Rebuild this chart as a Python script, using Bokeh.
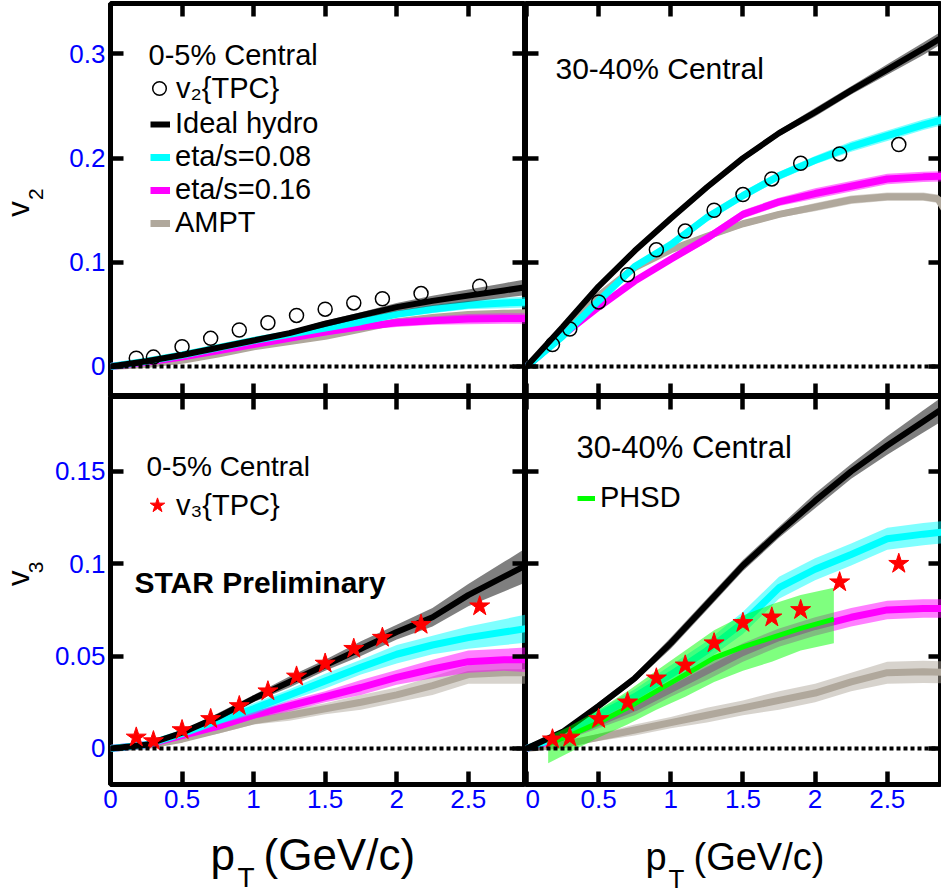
import numpy as np
from bokeh.plotting import figure
from bokeh.models import (Range1d, LinearAxis, FixedTicker, Span, Label, Legend, LegendItem)
from bokeh.layouts import row, column
from bokeh.embed import file_html
from bokeh.resources import INLINE

# ---------------- data ----------------
x_ticks = [0, 0.5, 1.0, 1.5, 2.0, 2.5]
x_tick_labels = ["0", "0.5", "1", "1.5", "2", "2.5"]
v2_ticks = [0, 0.1, 0.2, 0.3]
v2_tick_labels = ["0", "0.1", "0.2", "0.3"]
v3_ticks = [0, 0.05, 0.1, 0.15]
v3_tick_labels = ["0", "0.05", "0.1", "0.15"]

# measured points (pT in GeV/c)
pt_data = [0.18, 0.30, 0.50, 0.70, 0.90, 1.10, 1.30, 1.50, 1.70, 1.90, 2.17, 2.58]
v2_tpc_0_5 = [0.008, 0.009, 0.019, 0.027, 0.035, 0.042, 0.049, 0.055, 0.061, 0.065, 0.070, 0.077]
v2_tpc_30_40 = [0.021, 0.036, 0.062, 0.088, 0.112, 0.130, 0.150, 0.165, 0.180, 0.195, 0.204, 0.213]
v3_tpc_0_5 = [0.006, 0.004, 0.010, 0.016, 0.023, 0.031, 0.039, 0.046, 0.054, 0.060, 0.067, 0.077]
v3_tpc_30_40 = [0.005, 0.006, 0.016, 0.025, 0.038, 0.045, 0.057, 0.068, 0.071, 0.075, 0.090, 0.100]

# model curves (pT grid)
pt_model = [0, 0.25, 0.5, 0.75, 1.0, 1.25, 1.5, 1.75, 2.0, 2.25, 2.5, 2.75, 3.0]

# v2, 0-5%
v2c_hydro = [0, 0.005, 0.011, 0.018, 0.025, 0.032, 0.041, 0.049, 0.057, 0.063, 0.068, 0.073, 0.078]
v2c_hydro_err = [0, 0.001, 0.001, 0.0015, 0.002, 0.002, 0.003, 0.003, 0.004, 0.005, 0.006, 0.007, 0.008]
v2c_eta08 = [0, 0.005, 0.011, 0.018, 0.025, 0.031, 0.037, 0.043, 0.050, 0.055, 0.059, 0.061, 0.062]
v2c_eta08_err = [0, 0.001, 0.001, 0.0015, 0.002, 0.002, 0.003, 0.003, 0.003, 0.004, 0.004, 0.005, 0.005]
v2c_eta16 = [0, 0.004, 0.009, 0.015, 0.021, 0.027, 0.033, 0.038, 0.042, 0.044, 0.0455, 0.046, 0.046]
v2c_eta16_err = [0, 0.001, 0.001, 0.0015, 0.002, 0.002, 0.003, 0.003, 0.004, 0.004, 0.005, 0.005, 0.005]
v2c_ampt = [0, 0.002, 0.006, 0.012, 0.019, 0.024, 0.029, 0.036, 0.043, 0.047, 0.050, 0.051, 0.052]
v2c_ampt_err = [0, 0.001, 0.001, 0.001, 0.001, 0.001, 0.0015, 0.0015, 0.002, 0.002, 0.002, 0.002, 0.002]

# v2, 30-40%
v2p_hydro = [0, 0.038, 0.077, 0.111, 0.142, 0.172, 0.200, 0.224, 0.244, 0.265, 0.285, 0.305, 0.326]
v2p_hydro_err = [0, 0.001, 0.002, 0.002, 0.002, 0.003, 0.003, 0.003, 0.004, 0.004, 0.005, 0.006, 0.006]
v2p_eta08 = [0, 0.029, 0.063, 0.096, 0.117, 0.143, 0.164, 0.183, 0.198, 0.211, 0.2215, 0.232, 0.241]
v2p_eta08_err = [0, 0.002, 0.003, 0.003, 0.003, 0.004, 0.004, 0.004, 0.004, 0.005, 0.005, 0.005, 0.005]
v2p_eta16 = [0, 0.030, 0.057, 0.082, 0.103, 0.123, 0.146, 0.158, 0.166, 0.173, 0.180, 0.182, 0.183]
v2p_eta16_err = [0, 0.002, 0.002, 0.003, 0.003, 0.004, 0.004, 0.004, 0.005, 0.005, 0.005, 0.005, 0.005]
pt_ampt_p = [0, 0.25, 0.5, 0.75, 1.0, 1.25, 1.5, 1.75, 2.0, 2.25, 2.5, 2.75, 2.85, 2.9]
v2p_ampt = [0, 0.030, 0.068, 0.095, 0.112, 0.125, 0.137, 0.146, 0.153, 0.160, 0.163, 0.163, 0.161, 0.150]
v2p_ampt_err = [0, 0.002, 0.002, 0.002, 0.003, 0.003, 0.003, 0.003, 0.004, 0.004, 0.004, 0.004, 0.004, 0.004]

# v3, 0-5%
v3c_hydro = [0, 0.002, 0.0085, 0.017, 0.027, 0.036, 0.045, 0.054, 0.063, 0.071, 0.083, 0.093, 0.103]
v3c_hydro_err = [0, 0.001, 0.001, 0.002, 0.002, 0.003, 0.003, 0.004, 0.004, 0.005, 0.006, 0.008, 0.010]
v3c_eta08 = [0, 0.002, 0.008, 0.015, 0.0215, 0.029, 0.0365, 0.044, 0.051, 0.056, 0.060, 0.063, 0.066]
v3c_eta08_err = [0, 0.001, 0.001, 0.002, 0.003, 0.003, 0.004, 0.004, 0.005, 0.005, 0.006, 0.007, 0.008]
v3c_eta16 = [0, 0.002, 0.007, 0.012, 0.018, 0.023, 0.028, 0.033, 0.0385, 0.043, 0.047, 0.048, 0.048]
v3c_eta16_err = [0, 0.001, 0.001, 0.002, 0.002, 0.003, 0.003, 0.004, 0.004, 0.005, 0.006, 0.006, 0.007]
v3c_ampt = [0, 0.0015, 0.005, 0.010, 0.015, 0.018, 0.0215, 0.025, 0.029, 0.034, 0.040, 0.041, 0.041]
v3c_ampt_err = [0, 0.001, 0.001, 0.002, 0.002, 0.003, 0.003, 0.004, 0.004, 0.005, 0.005, 0.006, 0.006]

# v3, 30-40%
v3p_hydro = [0, 0.009, 0.023, 0.038, 0.057, 0.078, 0.099, 0.117, 0.134, 0.150, 0.164, 0.177, 0.190]
v3p_hydro_err = [0, 0.001, 0.002, 0.002, 0.003, 0.003, 0.003, 0.003, 0.004, 0.004, 0.005, 0.006, 0.007]
v3p_eta08 = [0, 0.007, 0.018, 0.028, 0.040, 0.053, 0.068, 0.087, 0.097, 0.105, 0.1135, 0.116, 0.118]
v3p_eta08_err = [0, 0.002, 0.003, 0.004, 0.005, 0.005, 0.006, 0.006, 0.006, 0.006, 0.006, 0.006, 0.006]
v3p_eta16 = [0, 0.006, 0.014, 0.022, 0.032, 0.042, 0.052, 0.060, 0.066, 0.071, 0.075, 0.0758, 0.0756]
v3p_eta16_err = [0, 0.002, 0.003, 0.004, 0.004, 0.005, 0.005, 0.005, 0.005, 0.005, 0.005, 0.005, 0.005]
v3p_ampt = [0, 0.002, 0.006, 0.010, 0.014, 0.018, 0.022, 0.026, 0.030, 0.036, 0.041, 0.0415, 0.041]
v3p_ampt_err = [0, 0.001, 0.002, 0.003, 0.003, 0.004, 0.004, 0.005, 0.005, 0.005, 0.006, 0.006, 0.006]

# PHSD (30-40%, v3)
pt_phsd = [0.15, 0.3, 0.5, 0.7, 0.9, 1.1, 1.3, 1.5, 1.7, 1.9, 2.13]
v3_phsd = [0.0025, 0.007, 0.014, 0.022, 0.031, 0.040, 0.049, 0.055, 0.060, 0.065, 0.070]
v3_phsd_hi = [0.0065, 0.012, 0.021, 0.031, 0.042, 0.053, 0.064, 0.072, 0.078, 0.083, 0.087]
v3_phsd_lo = [-0.008, -0.002, 0.006, 0.013, 0.021, 0.028, 0.036, 0.042, 0.047, 0.053, 0.057]

# ---------------- styles ----------------
FONT = "Liberation Sans"
BLUE = "#0000FF"
C_HYDRO = "black"
C_08 = "#00FFFF"
C_16 = "#FF00FF"
C_AMPT = "#B0A89C"
C_PHSD = "#00FF00"
C_STAR = "#FF0000"

XR_L = (0.0, 2.9)
XR_R = (-0.007, 2.876)
YR_V2 = (-0.0288, 0.3484)
YR_V3 = (-0.0195, 0.1905)
HALF_PI = np.pi / 2


def make_fig(w, h, xr, yr, left, right, top, bottom):
    p = figure(width=w, height=h, x_range=Range1d(*xr), y_range=Range1d(*yr),
               output_backend="svg", toolbar_location=None,
               x_axis_location=None, y_axis_location=None,
               min_border=0, min_border_left=left, min_border_right=right,
               min_border_top=top, min_border_bottom=bottom)
    p.xgrid.visible = False
    p.ygrid.visible = False
    p.outline_line_color = "black"
    p.outline_line_width = 5
    p.background_fill_color = "white"
    p.border_fill_color = "white"
    return p


def text_fig(w, h):
    p = figure(width=w, height=h, x_range=Range1d(0, w), y_range=Range1d(0, h),
               output_backend="svg", toolbar_location=None,
               x_axis_location=None, y_axis_location=None, min_border=0)
    p.xgrid.visible = False
    p.ygrid.visible = False
    p.outline_line_color = None
    p.background_fill_color = "white"
    p.border_fill_color = "white"
    return p


def add_axis(p, side, ticks, labels, show):
    ax = LinearAxis(ticker=FixedTicker(ticks=ticks, minor_ticks=[]))
    ax.axis_line_color = None
    ax.major_tick_in = 13
    ax.major_tick_out = 0
    ax.minor_tick_in = 0
    ax.minor_tick_out = 0
    ax.major_tick_line_width = 4.5
    ax.major_tick_line_color = "black"
    if show:
        ax.major_label_text_font = FONT
        ax.major_label_text_font_size = "26px"
        ax.major_label_text_color = BLUE
        ax.major_label_standoff = 5
        ax.major_label_overrides = {t: s for t, s in zip(ticks, labels)}
    else:
        ax.major_label_text_font_size = "0px"
        ax.major_label_standoff = 0
        ax.major_label_overrides = {t: "" for t in ticks}
    p.add_layout(ax, side)


def frame_axes(p, yticks, ylabels, show_x, show_y):
    add_axis(p, "below", x_ticks, x_tick_labels, show_x)
    add_axis(p, "above", x_ticks, x_tick_labels, False)
    add_axis(p, "left", yticks, ylabels, show_y)
    add_axis(p, "right", yticks, ylabels, False)
    p.add_layout(Span(location=0, dimension="width", line_color="black",
                      line_width=4, line_dash="4 3"))


def band_line(p, x, y, err, color, lw, alpha=0.5):
    y = np.array(y)
    e = np.array(err)
    p.varea(x=x, y1=y - e, y2=y + e, fill_color=color, fill_alpha=alpha)
    return p.line(x=x, y=y, line_color=color, line_width=lw)


def txt(p, x, y, s, size, angle=0.0, style="normal", units="screen"):
    # (x, y): left end of the text, vertical middle of the text box
    p.add_layout(Label(x=x, y=y, x_units=units, y_units=units, text=s,
                       text_font=FONT, text_font_size=size, text_font_style=style,
                       text_color="black", angle=angle, text_align="left",
                       text_baseline="middle"))


def make_legend(items, loc, label_size, spacing, gw, gh, standoff):
    lg = Legend(items=items, location=loc)
    lg.label_text_font = FONT
    lg.label_text_font_size = label_size
    lg.label_text_color = "black"
    lg.background_fill_alpha = 0
    lg.border_line_color = None
    lg.padding = 0
    lg.margin = 0
    lg.spacing = spacing
    lg.glyph_width = gw
    lg.glyph_height = gh
    lg.label_standoff = standoff
    lg.label_height = 20
    return lg


# ---------------- top-left: v2 0-5% ----------------
tl = make_fig(475, 396, XR_L, YR_V2, 60, 0, 3, 0)
frame_axes(tl, v2_ticks, v2_tick_labels, False, True)
r_ampt = band_line(tl, pt_model, v2c_ampt, v2c_ampt_err, C_AMPT, 7)
r_16 = band_line(tl, pt_model, v2c_eta16, v2c_eta16_err, C_16, 7)
r_08 = band_line(tl, pt_model, v2c_eta08, v2c_eta08_err, C_08, 7)
r_hy = band_line(tl, pt_model, v2c_hydro, v2c_hydro_err, C_HYDRO, 6)
r_pts = tl.scatter(pt_data, v2_tpc_0_5, marker="circle", size=14, fill_color="white",
                   fill_alpha=0, line_color="black", line_width=1.5)
txt(tl, 38, 342, "0-5% Central", "29px")
tl.add_layout(make_legend([LegendItem(label="v\u2082{TPC}", renderers=[r_pts])],
                          (32, 291), "29px", 0, 34, 34, 0))
tl.add_layout(make_legend([LegendItem(label="Ideal hydro", renderers=[r_hy]),
                           LegendItem(label="eta/s=0.08", renderers=[r_08]),
                           LegendItem(label="eta/s=0.16", renderers=[r_16]),
                           LegendItem(label="AMPT", renderers=[r_ampt])],
                          (40, 157), "29px", 0, 20, 20, 5))

# ---------------- top-right: v2 30-40% ----------------
tr = make_fig(416, 396, XR_R, YR_V2, 0, 0, 3, 0)
frame_axes(tr, v2_ticks, v2_tick_labels, False, False)
band_line(tr, pt_ampt_p, v2p_ampt, v2p_ampt_err, C_AMPT, 7)
band_line(tr, pt_model, v2p_eta16, v2p_eta16_err, C_16, 7)
band_line(tr, pt_model, v2p_eta08, v2p_eta08_err, C_08, 7)
band_line(tr, pt_model, v2p_hydro, v2p_hydro_err, C_HYDRO, 6)
tr.scatter(pt_data, v2_tpc_30_40, marker="circle", size=14, fill_color="white",
           fill_alpha=0, line_color="black", line_width=1.5)
txt(tr, 30, 328, "30-40% Central", "30px")

# ---------------- bottom-left: v3 0-5% ----------------
bl = make_fig(475, 428, XR_L, YR_V3, 60, 0, 0, 40)
frame_axes(bl, v3_ticks, v3_tick_labels, True, True)
band_line(bl, pt_model, v3c_ampt, v3c_ampt_err, C_AMPT, 7)
band_line(bl, pt_model, v3c_eta16, v3c_eta16_err, C_16, 7)
band_line(bl, pt_model, v3c_eta08, v3c_eta08_err, C_08, 7)
band_line(bl, pt_model, v3c_hydro, v3c_hydro_err, C_HYDRO, 6)
r_star = bl.scatter(pt_data, v3_tpc_0_5, marker="star", size=21, fill_color=C_STAR,
                    line_color=C_STAR, line_width=1)
txt(bl, 36, 318, "0-5% Central", "28px")
bl.add_layout(make_legend([LegendItem(label="v\u2083{TPC}", renderers=[r_star])],
                          (28, 260), "29px", 0, 38, 38, 0))
txt(bl, 24, 202, "STAR Preliminary", "30px", style="bold")

# ---------------- bottom-right: v3 30-40% ----------------
br = make_fig(416, 428, XR_R, YR_V3, 0, 0, 0, 40)
frame_axes(br, v3_ticks, v3_tick_labels, True, False)
band_line(br, pt_model, v3p_ampt, v3p_ampt_err, C_AMPT, 7)
band_line(br, pt_model, v3p_eta16, v3p_eta16_err, C_16, 7)
band_line(br, pt_model, v3p_eta08, v3p_eta08_err, C_08, 7)
band_line(br, pt_model, v3p_hydro, v3p_hydro_err, C_HYDRO, 6)
br.varea(x=pt_phsd, y1=v3_phsd_lo, y2=v3_phsd_hi, fill_color=C_PHSD, fill_alpha=0.5)
r_phsd = br.line(pt_phsd, v3_phsd, line_color=C_PHSD, line_width=5)
br.scatter(pt_data, v3_tpc_30_40, marker="star", size=21, fill_color=C_STAR,
           line_color=C_STAR, line_width=1)
txt(br, 51, 337, "30-40% Central", "31px")
br.add_layout(make_legend([LegendItem(label="PHSD", renderers=[r_phsd])],
                          (52, 270), "29px", 0, 18, 20, 5))

# ---------------- axis titles (text-only panels) ----------------
ylt = text_fig(50, 396)
txt(ylt, 18, 181, "v", "31px", HALF_PI, units="data")
txt(ylt, 35, 198, "2", "21px", HALF_PI, units="data")

ylb = text_fig(50, 428)
txt(ylb, 18, 219, "v", "31px", HALF_PI, units="data")
txt(ylb, 35, 233, "3", "21px", HALF_PI, units="data")

xt = text_fig(941, 71)
txt(xt, 210, 41, "p", "44px", units="data")
txt(xt, 237, 18, "T", "28px", units="data")
txt(xt, 263, 41, "(GeV/c)", "44px", units="data")
txt(xt, 645, 39, "p", "38px", units="data")
txt(xt, 668, 17, "T", "26px", units="data")
txt(xt, 693, 39, "(GeV/c)", "38px", units="data")

layout = column(row(ylt, tl, tr), row(ylb, bl, br), xt)

open("out.html", "w").write(file_html(layout, INLINE))
